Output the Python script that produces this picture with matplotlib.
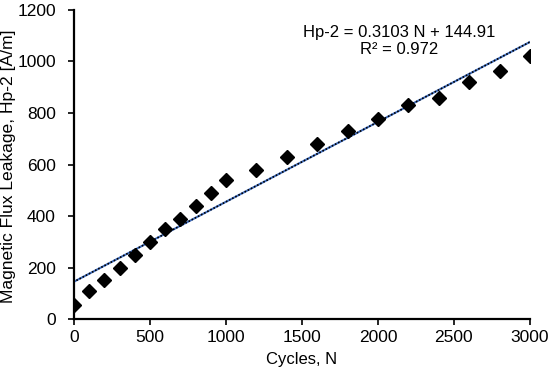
import matplotlib
matplotlib.use("Agg")
import matplotlib.pyplot as plt
import numpy as np

plt.rcParams['font.family'] = ['Liberation Sans', 'DejaVu Sans']

cycles = [0, 100, 200, 300, 400, 500, 600, 700, 800, 900, 1000,
          1200, 1400, 1600, 1800, 2000, 2200, 2400, 2600, 2800, 3000]
hp2 = [55, 110, 150, 200, 250, 300, 350, 390, 440, 490, 540,
       580, 630, 680, 730, 775, 830, 860, 920, 965, 1020]
slope = 0.3103
intercept = 144.91
r2 = 0.972
x_ticks = [0, 500, 1000, 1500, 2000, 2500, 3000]
y_ticks = [0, 200, 400, 600, 800, 1000, 1200]

fig = plt.figure(figsize=(5.5, 3.77), dpi=100)
ax = fig.add_axes([0.1345, 0.1538, 0.829, 0.8197])

xf = np.array([0, 3000])
yf = slope * xf + intercept
ax.plot(xf, yf, color='#4472C4', lw=1.5, zorder=2)
ax.plot(xf, yf, color='black', lw=1.4, linestyle=(0, (0.01, 1.8)), zorder=3,
        dash_capstyle='round')
ax.plot(cycles, hp2, linestyle='none', marker='D', markersize=7, color='black', zorder=4)

ax.set_xlim(0, 3000)
ax.set_ylim(0, 1200)
ax.set_xticks(x_ticks)
ax.set_yticks(y_ticks)
ax.tick_params(labelsize=12.5, length=4, width=1.2, direction='out', colors='black')
ax.tick_params(axis='y', pad=9)
ax.tick_params(axis='x', pad=4)
for s in ['top', 'right']:
    ax.spines[s].set_visible(False)
for s in ['left', 'bottom']:
    ax.spines[s].set_linewidth(1.6)
    ax.spines[s].set_color('black')
ax.set_xlabel('Cycles, N', fontsize=12, labelpad=5)
ax.set_ylabel('Magnetic Flux Leakage, Hp-2 [A/m]', fontsize=12.6)
ax.yaxis.set_label_coords(-0.127, 0.495)

ax.text(0.713, 0.95, f'Hp-2 = {slope} N + {intercept}\nR² = {r2}', transform=ax.transAxes,
        ha='center', va='top', fontsize=12, linespacing=1.15)

fig.savefig('out.png', dpi=100)
